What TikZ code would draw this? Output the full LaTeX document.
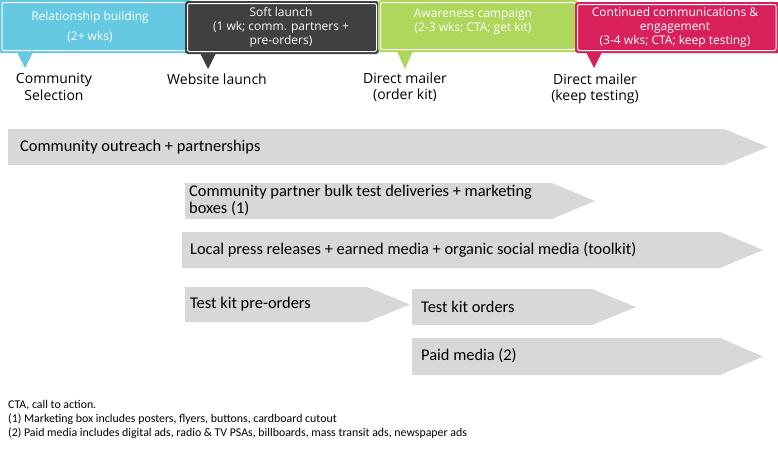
\documentclass[tikz,border=0pt]{standalone}
\usepackage{fontspec}
\setmainfont{Carlito}
\newfontfamily\osans{Open Sans}
\definecolor{cblue}{HTML}{66C9E3}
\definecolor{cdark}{HTML}{404040}
\definecolor{cgreen}{HTML}{AED75B}
\definecolor{cred}{HTML}{D8205A}
\definecolor{cgray}{HTML}{D8D8D8}
\begin{document}
\begin{tikzpicture}[x=1pt,y=-1pt,
  boxfill/.style={fill=#1, rounded corners=3pt},
  innerline/.style={draw=white, line width=1pt, rounded corners=2pt},
  calltext/.style={text=white, font=\osans\fontsize{12}{14}\selectfont, align=center, inner sep=0pt},
  milestone/.style={text=black, font=\osans\fontsize{14}{16.5}\selectfont, align=center, inner sep=0pt},
  garrow/.style={fill=cgray},
  arrtext/.style={font=\fontsize{16.4}{17}\selectfont, anchor=west, align=left, inner sep=0pt},
  notes/.style={font=\fontsize{11.85}{14}\selectfont, anchor=north west, align=left, inner sep=0pt}]
\useasboundingbox (0,0) rectangle (778,450);

% blue callout
\fill[boxfill=cblue] (-4,0) rectangle (192,53);
\fill[cblue] (17,52) -- (25,68) -- (33,52) -- cycle;
\draw[innerline] (2,2.5) rectangle (189.5,50.5);
\node[calltext] (rb) at (90,27) {Relationship building\\[6pt](2+ wks)};

% dark callout
\fill[boxfill=cdark] (185,1) rectangle (379,54);
\fill[cdark] (200,53) -- (208,69) -- (216,53) -- cycle;
\draw[innerline] (187.5,3.5) rectangle (376.5,51.5);
\node[calltext] (sl) at (281,27) {Soft launch\\(1 wk; comm. partners +\\pre-orders)};

% green callout
\fill[boxfill=cgreen] (378,0) rectangle (578,52);
\fill[cgreen] (397,51) -- (405,69) -- (413,51) -- cycle;
\draw[innerline] (380.5,2.5) rectangle (575.5,49.5);
\node[calltext] (ac) at (473,22) {Awareness campaign\\(2-3 wks; CTA; get kit)};

% red callout
\fill[boxfill=cred] (575,2) rectangle (782,53);
\fill[cred] (586,52) -- (594,68) -- (602,52) -- cycle;
\draw[innerline] (577.5,4.5) rectangle (776,50.5);
\node[calltext] (cc) at (675,27) {Continued communications \&\\engagement\\(3-4 wks; CTA; keep testing)};

% milestones
\node[milestone] (m1) at (54,87) {Community\\Selection};
\node[milestone] (m2) at (217,79) {Website launch};
\node[milestone] (m3) at (405,87.5) {Direct mailer\\(order kit)};
\node[milestone] (m4) at (595,89) {Direct mailer\\(keep testing)};

% gray arrows
\fill[garrow] (8,129) -- (724,129) -- (768,147) -- (724,165) -- (8,165) -- cycle;
\node[arrtext] (a1) at (20,147) {Community outreach + partnerships};

\fill[garrow] (185,183) -- (552,183) -- (595,201) -- (552,219) -- (185,219) -- cycle;
\node[arrtext] (a2) at (189,200) {Community partner bulk test deliveries + marketing\\boxes (1)};

\fill[garrow] (182,232) -- (720,232) -- (763,250) -- (720,268) -- (182,268) -- cycle;
\node[arrtext] (a3) at (190,250) {Local press releases + earned media + organic social media (toolkit)};

\fill[garrow] (185,287) -- (367,287) -- (410,304.5) -- (367,322) -- (185,322) -- cycle;
\node[arrtext] (a4) at (190,304) {Test kit pre-orders};

\fill[garrow] (412,289) -- (592,289) -- (636,307) -- (592,325) -- (412,325) -- cycle;
\node[arrtext] (a5) at (421,307) {Test kit orders};

\fill[garrow] (412,338) -- (720,338) -- (763,356.5) -- (720,375) -- (412,375) -- cycle;
\node[arrtext] (a6) at (421,356) {Paid media (2)};

% notes
\node[notes] (n) at (8,400) {CTA, call to action.\\(1) Marketing box includes posters, flyers, buttons, cardboard cutout\\(2) Paid media includes digital ads, radio \& TV PSAs, billboards, mass transit ads, newspaper ads};
\end{tikzpicture}
\end{document}
